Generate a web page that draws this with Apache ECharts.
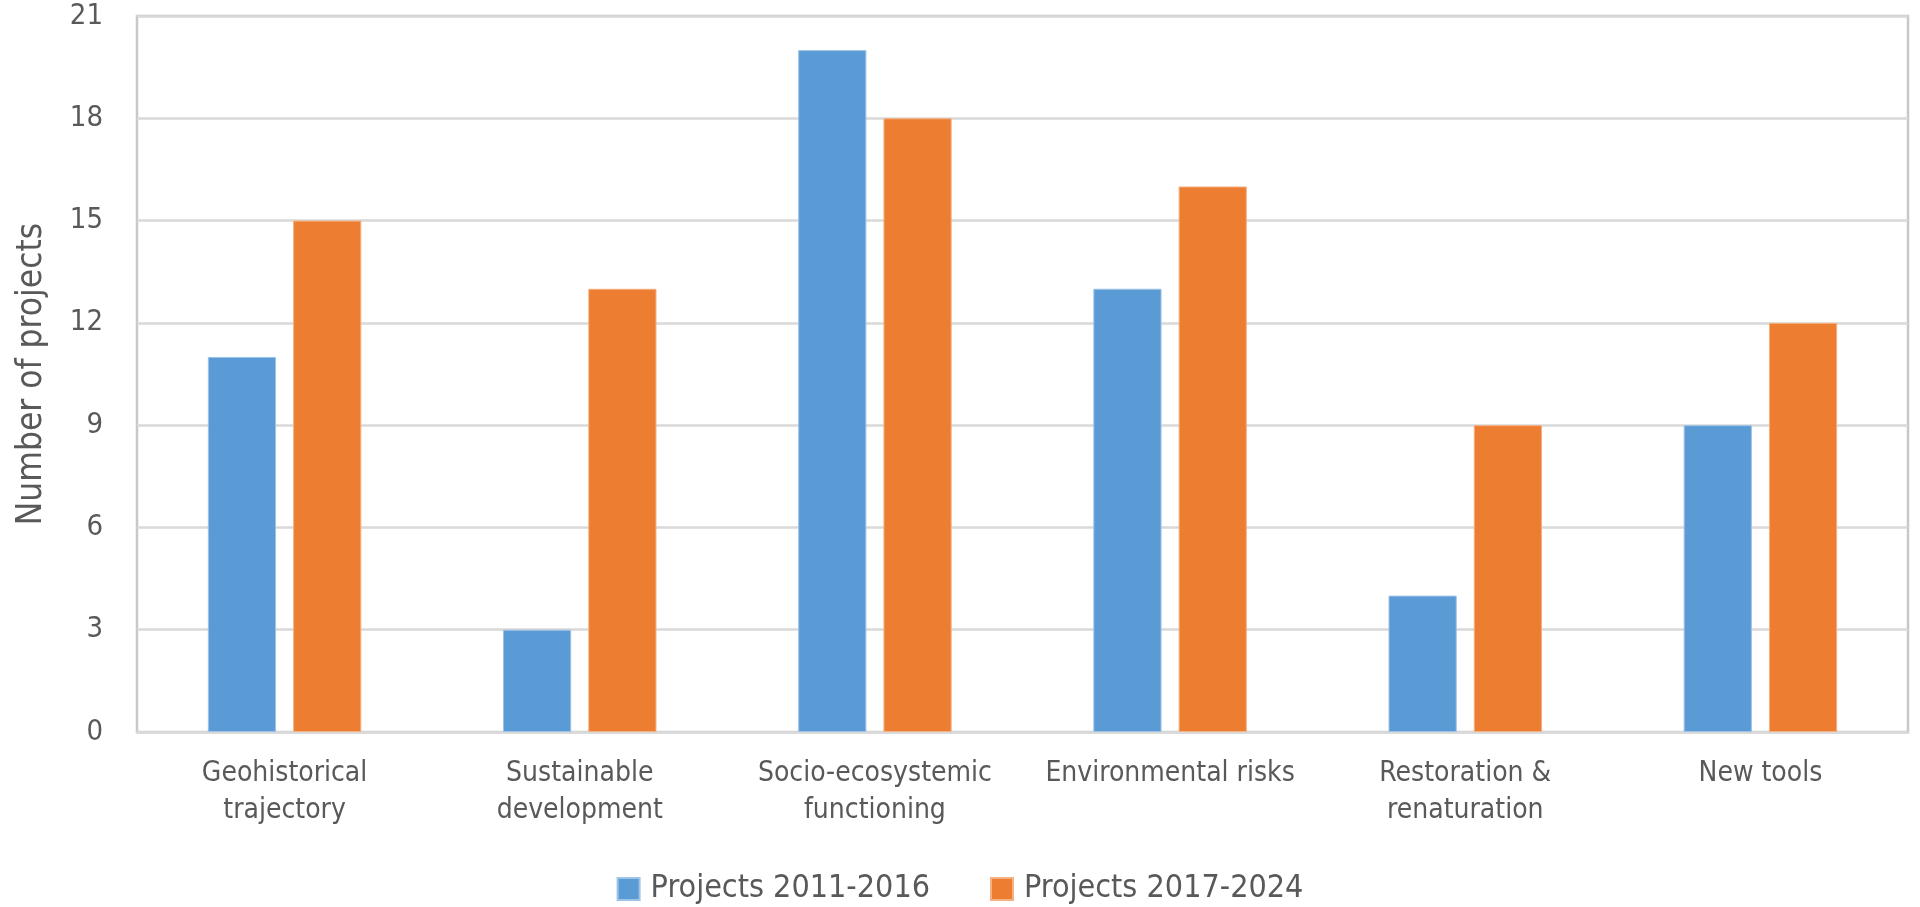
<!DOCTYPE html>
<html>
<head>
<meta charset="utf-8">
<script src="https://cdn.jsdelivr.net/npm/echarts@6/dist/echarts.min.js"></script>
<style>
html,body{margin:0;padding:0;background:#fff;}
#chart{width:1920px;height:907px;}
</style>
</head>
<body>
<div id="chart"></div>
<script>
const categories = ["Geohistorical\ntrajectory", "Sustainable\ndevelopment", "Socio-ecosystemic\nfunctioning", "Environmental risks", "Restoration &\nrenaturation", "New tools"];
const seriesNames = ["Projects 2011-2016", "Projects 2017-2024"];
const projects2011_2016 = [11, 3, 20, 13, 4, 9];
const projects2017_2024 = [15, 13, 18, 16, 9, 12];
const yAxisTitle = "Number of projects";

const FONT = "'Liberation Sans Narrow', 'DejaVu Sans Condensed', 'Liberation Sans', sans-serif";
const chart = echarts.init(document.getElementById('chart'));
chart.setOption({
  backgroundColor: '#ffffff',
  animation: false,
  grid: {
    left: 137, right: 12, top: 16, bottom: 175,
    show: true, borderColor: '#c8c8c8', borderWidth: 2.5, backgroundColor: 'transparent'
  },
  legend: {
    data: seriesNames,
    left: 'center',
    top: 868,
    icon: 'rect',
    itemWidth: 22,
    itemHeight: 22,
    itemGap: 60,
    textStyle: { fontFamily: FONT, fontSize: 32, color: '#595959', padding: [0, 0, 0, 6] }
  },
  xAxis: {
    type: 'category',
    data: categories,
    axisTick: { show: false },
    axisLine: { show: true, lineStyle: { color: '#d9d9d9', width: 2.5 } },
    axisLabel: {
      interval: 0, margin: 23, fontFamily: FONT, fontSize: 28, lineHeight: 37, color: '#595959'
    }
  },
  yAxis: {
    type: 'value',
    min: 0, max: 21, interval: 3,
    name: yAxisTitle,
    nameLocation: 'middle',
    nameGap: 88,
    nameTextStyle: { fontFamily: FONT, fontSize: 35, color: '#595959' },
    axisLine: { show: false },
    axisTick: { show: false },
    axisLabel: { margin: 34, fontFamily: FONT, fontSize: 29, color: '#595959' },
    splitLine: { lineStyle: { color: '#d9d9d9', width: 2.5 } }
  },
  series: [
    {
      name: seriesNames[0], type: 'bar', data: projects2011_2016,
      barGap: '25%', barCategoryGap: '48%',
      itemStyle: { color: '#5B9BD5', borderColor: '#9dc3e6', borderWidth: 1 }
    },
    {
      name: seriesNames[1], type: 'bar', data: projects2017_2024,
      barGap: '25%', barCategoryGap: '48%',
      itemStyle: { color: '#ED7D31', borderColor: '#f4b183', borderWidth: 1 }
    }
  ]
});
</script>
</body>
</html>
